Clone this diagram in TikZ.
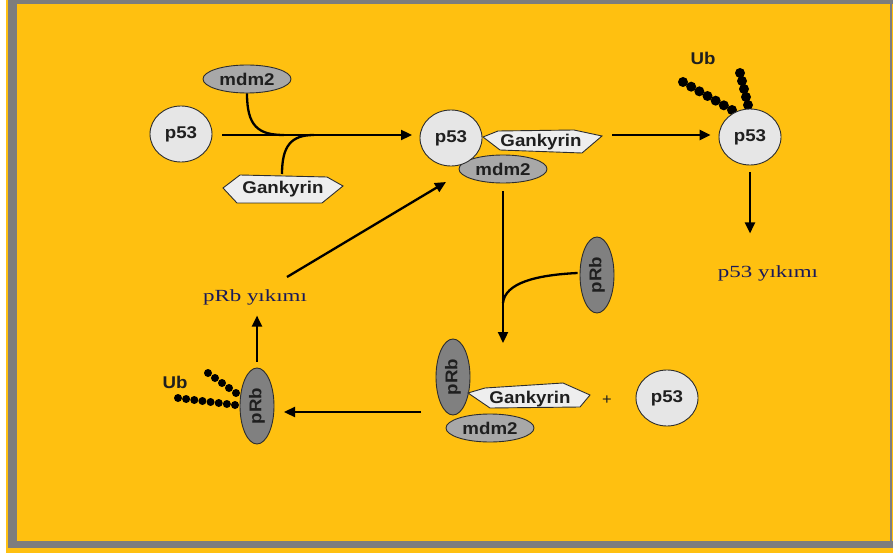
\documentclass[tikz,border=0pt]{standalone}
\usepackage{fontspec}
\newfontfamily\labfont[FakeStretch=1.1]{Liberation Sans}
\newfontfamily\ykfont[FakeStretch=1.35]{Liberation Serif}
\usetikzlibrary{shapes.geometric,arrows.meta}
\definecolor{bg}{RGB}{255,192,16}
\definecolor{framec}{RGB}{125,125,125}
\definecolor{lightg}{RGB}{230,230,230}
\definecolor{gkfill}{RGB}{238,238,238}
\definecolor{midg}{RGB}{168,168,168}
\definecolor{darkg}{RGB}{128,128,128}
\definecolor{navy}{RGB}{25,25,90}
\definecolor{edgec}{RGB}{45,45,45}
\tikzset{
  lab/.style={font=\labfont\bfseries\fontsize{17}{17}\selectfont, text=black!88},
  mol/.style={ellipse, draw=edgec, line width=0.9pt, inner sep=0pt, lab},
  p53/.style={mol, fill=lightg, minimum width=62pt, minimum height=56pt},
  mdm/.style={mol, fill=midg, minimum width=88pt, minimum height=28pt},
  prb/.style={mol, fill=darkg, minimum width=76pt, minimum height=34pt, rotate=90},
  gk/.style={draw=edgec, fill=gkfill, line width=0.9pt},
  gktext/.style={inner sep=0pt, lab},
  arr/.style={line width=2.3pt, -{Triangle[length=11pt,width=10pt]}},
  link/.style={line width=2.3pt},
  yk/.style={text=navy, font=\ykfont\fontsize{17}{17}\selectfont},
}
\begin{document}
\begin{tikzpicture}[x=1pt,y=-1pt]
\useasboundingbox (0,0) rectangle (893,553);
% background and frame
\fill[bg] (0,0) rectangle (893,553);
\fill[white] (0,0) rectangle (6,553);
\fill[framec] (8,0) rectangle (17,548);
\fill[framec] (8,0) rectangle (893,4);
\fill[framec] (8,541) rectangle (893,548);
\fill[framec] (890,0) rectangle (892,548);

% ---- top-left: p53 + mdm2 + Gankyrin
\node[p53] (p53a) at (181,134) {p53};
\node[mdm] (m1) at (247,79) {mdm2};
\draw[gk, shift={(283,189)}] (-60,-1) -- (-43,-14) -- (44,-12) -- (60,-3) -- (39,14) -- (-46,14) -- cycle;
\node[gktext] (g1) at (283,189) {Gankyrin};
\coordinate (g1top) at (282,174);
\coordinate (j1) at (284,135);
\coordinate (j2) at (314,135);

% ---- central complex
\node[mdm] (m2) at (503,169) {mdm2};
\draw[gk, shift={(541,142)}] (-58,-5) -- (-43,-11) -- (33,-12) -- (61,-6) -- (41,11) -- (-41,8) -- cycle;
\node[gktext] (g2) at (541,142) {Gankyrin};
\node[p53] (p53b) at (451,138) {p53};

% ---- right p53 with Ub
\foreach \i in {0,...,6} \fill ({683+\i*49/6},{82+\i*28/6}) circle (5pt);
\foreach \i in {0,...,4} \fill ({740+\i*8/4},{73+\i*32/4}) circle (5pt);
\node[p53] (p53c) at (750,137) {p53};
\node[lab] (ub1) at (703,58) {Ub};
\node[yk] (yk1) at (768,273) {p53 yıkımı};

% ---- upper right pRb
\node[prb] (prb1) at (597,275) {pRb};

% ---- bottom complex
\node[prb] (prb2) at (453,377) {pRb};
\draw[gk, shift={(530,399)}] (-62,-6) -- (-45,-11) -- (33,-16) -- (60,-4) -- (50,8) -- (-40,9) -- cycle;
\node[gktext] (g3) at (530,399) {Gankyrin};
\node[mdm] (m3) at (490,428) {mdm2};
\node[lab, font=\labfont\fontsize{15}{15}\selectfont] (plus) at (607,400) {+};
\node[p53] (p53d) at (667,398) {p53};

% ---- left pRb with Ub
\foreach \i in {0,...,7} \fill ({178+\i*57/7},{398+\i*7/7}) circle (4pt);
\foreach \i in {0,...,4} \fill ({208+\i*28/4},{373+\i*20/4}) circle (4pt);
\node[prb] (prb3) at (257,406) {pRb};
\node[lab] (ub2) at (175,382) {Ub};
\node[yk] (yk2) at (255,297) {pRb yıkımı};

% ---- connectors
\coordinate (a1e) at (412,135);
\draw[arr] (p53a.east |- j1) ++(10,0) -- (a1e);
\draw[link] (m1.south) .. controls (247,126) and (258,135) .. (j1);
\draw[link] (g1top) .. controls (282,146) and (291,135) .. (j2);

\coordinate (a2s) at (612,135);
\draw[arr, shorten >=8pt] (a2s) -- (p53c.west |- a2s);

\draw[arr, shorten <=7pt] (p53c.south) -- ++(0,68);

\coordinate (a4e) at (503,343);
\draw[arr, shorten <=8pt] (m2.south) -- (a4e);
\draw[link] (prb1.north) ++(-2,-2) .. controls (536,275) and (505,283) .. (503,303);

\coordinate (a5s) at (421,412);
\coordinate (a5e) at (284,412);
\draw[arr] (a5s) -- (a5e);

\draw[arr, shorten <=6pt] (prb3.east) -- ++(0,-52);

\coordinate (a7s) at (287,277);
\coordinate (a7e) at (446,182);
\draw[arr] (a7s) -- (a7e);
\end{tikzpicture}
\end{document}
